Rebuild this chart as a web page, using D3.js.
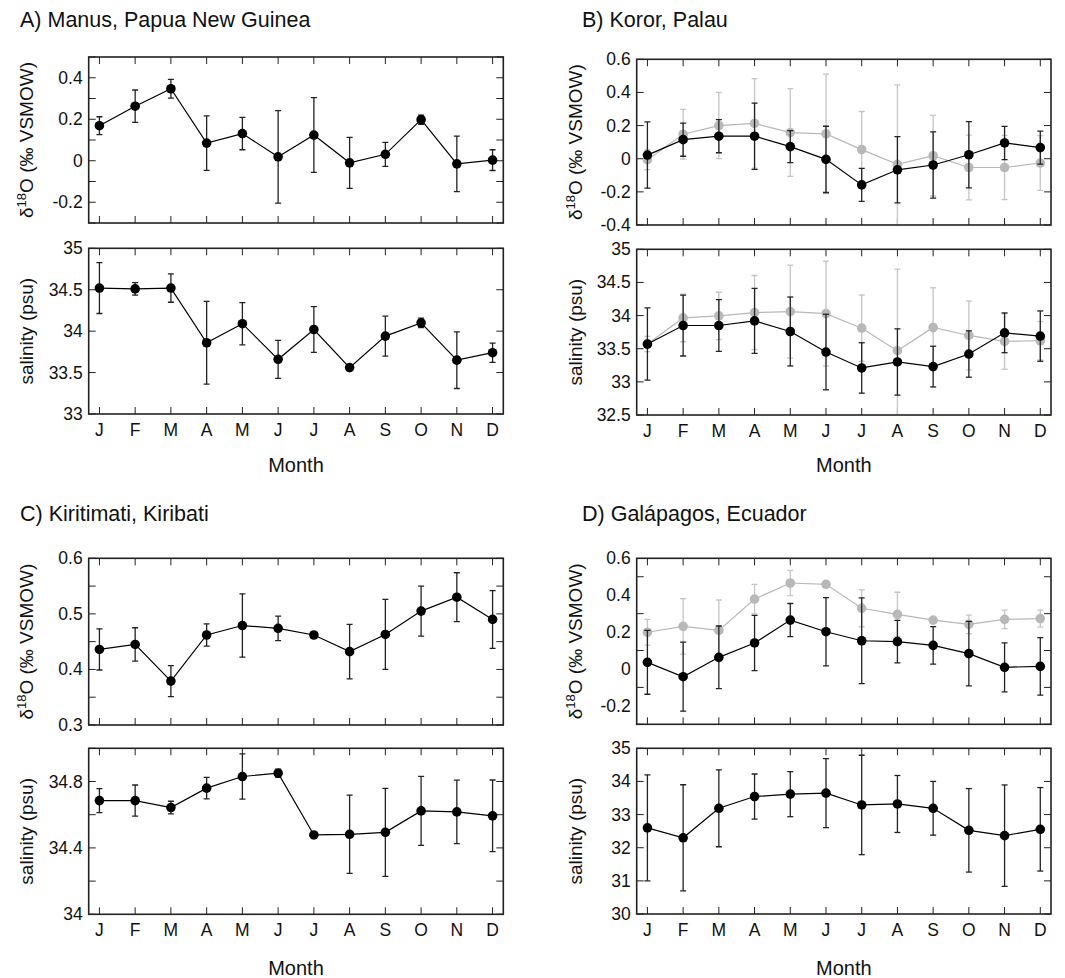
<!DOCTYPE html>
<html>
<head>
<meta charset="utf-8">
<script src="https://cdn.jsdelivr.net/npm/d3@7"></script>
<style>
body { margin: 0; background: #fff; }
text { font-family: "Liberation Sans", Arial, sans-serif; fill: #111; }
</style>
</head>
<body>
<svg id="chart" width="1065" height="978"></svg>
<script>
// month tick labels
const months = ["J", "F", "M", "A", "M", "J", "J", "A", "S", "O", "N", "D"];

// A) Manus
const manusD18O    = [0.169, 0.263, 0.347, 0.085, 0.131, 0.019, 0.124, -0.010, 0.031, 0.198, -0.015, 0.003];
const manusD18OErr = [0.043, 0.078, 0.045, 0.131, 0.078, 0.223, 0.180, 0.123, 0.058, 0.022, 0.134, 0.050];
const manusSal     = [34.52, 34.51, 34.52, 33.86, 34.09, 33.66, 34.02, 33.56, 33.94, 34.10, 33.65, 33.74];
const manusSalErr  = [0.307, 0.076, 0.171, 0.500, 0.255, 0.229, 0.277, 0.010, 0.241, 0.058, 0.342, 0.116];

// B) Palau (black and grey series)
const palauD18O        = [0.022, 0.115, 0.136, 0.136, 0.073, -0.004, -0.158, -0.067, -0.038, 0.024, 0.095, 0.067];
const palauD18OErr     = [0.200, 0.100, 0.100, 0.200, 0.096, 0.200, 0.100, 0.200, 0.200, 0.200, 0.100, 0.100];
const palauD18OGrey    = [-0.006, 0.148, 0.200, 0.213, 0.158, 0.150, 0.055, -0.034, 0.018, -0.053, -0.053, -0.026];
const palauD18OGreyErr = [0.060, 0.150, 0.200, 0.270, 0.265, 0.360, 0.230, 0.480, 0.243, 0.195, 0.194, 0.165];
const palauSal         = [33.57, 33.85, 33.85, 33.92, 33.76, 33.45, 33.21, 33.30, 33.23, 33.42, 33.74, 33.69];
const palauSalErr      = [0.545, 0.460, 0.390, 0.490, 0.520, 0.570, 0.380, 0.500, 0.307, 0.350, 0.300, 0.380];
const palauSalGrey     = [33.57, 33.965, 33.995, 34.045, 34.06, 34.03, 33.81, 33.47, 33.82, 33.70, 33.61, 33.62];
const palauSalGreyErr  = [0.115, 0.360, 0.357, 0.560, 0.700, 0.790, 0.500, 1.230, 0.600, 0.520, 0.420, 0.290];

// C) Kiritimati
const kiriD18O    = [0.436, 0.445, 0.379, 0.462, 0.479, 0.474, 0.462, 0.432, 0.463, 0.505, 0.530, 0.490];
const kiriD18OErr = [0.037, 0.030, 0.028, 0.020, 0.057, 0.022, 0.000, 0.049, 0.063, 0.045, 0.044, 0.052];
const kiriSal     = [34.685, 34.685, 34.643, 34.760, 34.830, 34.850, 34.478, 34.482, 34.494, 34.623, 34.617, 34.593];
const kiriSalErr  = [0.072, 0.094, 0.038, 0.065, 0.136, 0.025, 0.000, 0.236, 0.265, 0.208, 0.191, 0.216];

// D) Galapagos
const galaD18O        = [0.036, -0.042, 0.063, 0.141, 0.265, 0.202, 0.153, 0.148, 0.128, 0.083, 0.009, 0.014];
const galaD18OErr     = [0.173, 0.187, 0.170, 0.150, 0.090, 0.185, 0.232, 0.115, 0.102, 0.175, 0.133, 0.156];
const galaD18OGrey    = [0.199, 0.231, 0.209, 0.379, 0.466, 0.459, 0.329, 0.296, 0.265, 0.242, 0.269, 0.273];
const galaD18OGreyErr = [0.070, 0.150, 0.165, 0.080, 0.068, 0.000, 0.100, 0.120, 0.000, 0.050, 0.050, 0.046];
const galaSal         = [32.60, 32.30, 33.19, 33.545, 33.616, 33.646, 33.29, 33.32, 33.19, 32.525, 32.364, 32.556];
const galaSalErr      = [1.60, 1.60, 1.16, 0.68, 0.68, 1.04, 1.50, 0.86, 0.81, 1.26, 1.53, 1.26];

const black = "#000", grey = "#b8b8b8";
const d18oLabel = "d18o", salLabel = "salinity (psu)";

const panels = [
  { title: "A) Manus, Papua New Guinea", tx: 20, ty: 27, x0: 88.7, x1: 503.3, labX: 33, monthY: 472,
    plots: [
      { y0: 57, y1: 223, domain: [-0.3, 0.5], step: 0.1, labels: [0.4, 0.2, 0, -0.2], ylab: d18oLabel,
        series: [{ v: manusD18O, e: manusD18OErr, c: black }] },
      { y0: 248.3, y1: 414, domain: [33, 35], step: 0.5, labels: [35, 34.5, 34, 33.5, 33], ylab: salLabel, months: true,
        series: [{ v: manusSal, e: manusSalErr, c: black }] }
    ] },
  { title: "B) Koror, Palau", tx: 582, ty: 27, x0: 636.7, x1: 1051, labX: 582, monthY: 472,
    plots: [
      { y0: 59.3, y1: 225, domain: [-0.4, 0.6], step: 0.2, labels: [0.6, 0.4, 0.2, 0, -0.2, -0.4], ylab: d18oLabel,
        series: [{ v: palauD18OGrey, e: palauD18OGreyErr, c: grey }, { v: palauD18O, e: palauD18OErr, c: black }] },
      { y0: 249.3, y1: 415, domain: [32.5, 35], step: 0.5, labels: [35, 34.5, 34, 33.5, 33, 32.5], ylab: salLabel, months: true,
        series: [{ v: palauSalGrey, e: palauSalGreyErr, c: grey }, { v: palauSal, e: palauSalErr, c: black }] }
    ] },
  { title: "C) Kiritimati, Kiribati", tx: 20, ty: 521, x0: 88.7, x1: 503.3, labX: 33, monthY: 975,
    plots: [
      { y0: 558.3, y1: 725, domain: [0.3, 0.6], step: 0.05, labels: [0.6, 0.5, 0.4, 0.3], ylab: d18oLabel,
        series: [{ v: kiriD18O, e: kiriD18OErr, c: black }] },
      { y0: 748.3, y1: 914.3, domain: [34, 35], step: 0.2, labels: [34.8, 34.4, 34], ylab: salLabel, months: true,
        series: [{ v: kiriSal, e: kiriSalErr, c: black }] }
    ] },
  { title: "D) Galápagos, Ecuador", tx: 582, ty: 521, x0: 636.7, x1: 1051, labX: 582, monthY: 975,
    plots: [
      { y0: 558.3, y1: 724.3, domain: [-0.3, 0.6], step: 0.2, labels: [0.6, 0.4, 0.2, 0, -0.2], ylab: d18oLabel,
        series: [{ v: galaD18OGrey, e: galaD18OGreyErr, c: grey }, { v: galaD18O, e: galaD18OErr, c: black }] },
      { y0: 748.3, y1: 914, domain: [30, 35], step: 1, labels: [35, 34, 33, 32, 31, 30], ylab: salLabel, months: true,
        series: [{ v: galaSal, e: galaSalErr, c: black }] }
    ] }
];

const svg = d3.select("#chart");
const tickLen = 7, capW = 3, r = 4.8;
let clipId = 0;

function drawPlot(g, p, pl) {
  const x = d3.scaleLinear().domain([-0.3, 11.3]).range([p.x0, p.x1]);
  const y = d3.scaleLinear().domain(pl.domain).range([pl.y1, pl.y0]);

  // ticks inside on all four sides
  const yt = [];
  for (let v = pl.domain[0]; v <= pl.domain[1] + 1e-9; v += pl.step) yt.push(Math.round(v * 1000) / 1000);
  const axes = g.append("g").attr("stroke", "#222").attr("stroke-width", 1);
  yt.forEach(v => {
    axes.append("line").attr("x1", p.x0).attr("x2", p.x0 + tickLen).attr("y1", y(v)).attr("y2", y(v));
    axes.append("line").attr("x1", p.x1).attr("x2", p.x1 - tickLen).attr("y1", y(v)).attr("y2", y(v));
  });
  months.forEach((m, i) => {
    axes.append("line").attr("x1", x(i)).attr("x2", x(i)).attr("y1", pl.y1).attr("y2", pl.y1 - tickLen);
    axes.append("line").attr("x1", x(i)).attr("x2", x(i)).attr("y1", pl.y0).attr("y2", pl.y0 + tickLen);
  });

  g.selectAll(".ylab").data(pl.labels).enter().append("text")
    .attr("x", p.x0 - 6).attr("y", d => y(d) + 6)
    .attr("text-anchor", "end").attr("font-size", 17.5)
    .text(d => String(d));

  if (pl.months) {
    g.selectAll(".mlab").data(months).enter().append("text")
      .attr("x", (d, i) => x(i)).attr("y", pl.y1 + 22)
      .attr("text-anchor", "middle").attr("font-size", 17.5)
      .text(d => d);
    g.append("text").attr("x", (p.x0 + p.x1) / 2).attr("y", p.monthY)
      .attr("text-anchor", "middle").attr("font-size", 20).text("Month");
  }

  // y axis title
  const yl = g.append("text")
    .attr("transform", "translate(" + p.labX + "," + ((pl.y0 + pl.y1) / 2) + ") rotate(-90)")
    .attr("text-anchor", "middle").attr("font-size", 19);
  if (pl.ylab === "d18o") {
    yl.append("tspan").text("δ");
    yl.append("tspan").attr("font-size", 13).attr("dy", -7).text("18");
    yl.append("tspan").attr("dy", 7).text("O (‰ VSMOW)");
  } else {
    yl.text(pl.ylab);
  }

  // data, clipped to the frame
  const id = "clip" + (clipId++);
  g.append("clipPath").attr("id", id).append("rect")
    .attr("x", p.x0).attr("y", pl.y0).attr("width", p.x1 - p.x0).attr("height", pl.y1 - pl.y0);
  const dg = g.append("g").attr("clip-path", "url(#" + id + ")");
  const line = d3.line().x((d, i) => x(i)).y(d => y(d));

  pl.series.forEach(s => {
    const sg = dg.append("g");
    const eb = sg.selectAll(".err").data(s.v).enter().append("g")
      .attr("stroke", s.c === black ? "#222" : "#c4c4c4").attr("stroke-width", 1.3);
    eb.append("line").attr("x1", (d, i) => x(i)).attr("x2", (d, i) => x(i))
      .attr("y1", (d, i) => y(d + s.e[i])).attr("y2", (d, i) => y(d - s.e[i]));
    eb.append("line").attr("x1", (d, i) => x(i) - capW).attr("x2", (d, i) => x(i) + capW)
      .attr("y1", (d, i) => y(d + s.e[i])).attr("y2", (d, i) => y(d + s.e[i]));
    eb.append("line").attr("x1", (d, i) => x(i) - capW).attr("x2", (d, i) => x(i) + capW)
      .attr("y1", (d, i) => y(d - s.e[i])).attr("y2", (d, i) => y(d - s.e[i]));
    sg.append("path").datum(s.v).attr("d", line)
      .attr("fill", "none").attr("stroke", s.c).attr("stroke-width", 1.2);
    sg.selectAll("circle").data(s.v).enter().append("circle")
      .attr("cx", (d, i) => x(i)).attr("cy", d => y(d)).attr("r", r).attr("fill", s.c);
  });

  // frame
  g.append("rect").attr("x", p.x0).attr("y", pl.y0)
    .attr("width", p.x1 - p.x0).attr("height", pl.y1 - pl.y0)
    .attr("fill", "none").attr("stroke", "#222").attr("stroke-width", 1.6);
}

panels.forEach(p => {
  const g = svg.append("g");
  g.append("text").attr("x", p.tx).attr("y", p.ty).attr("font-size", 21.5).text(p.title);
  p.plots.forEach(pl => drawPlot(g.append("g"), p, pl));
});
</script>
</body>
</html>
